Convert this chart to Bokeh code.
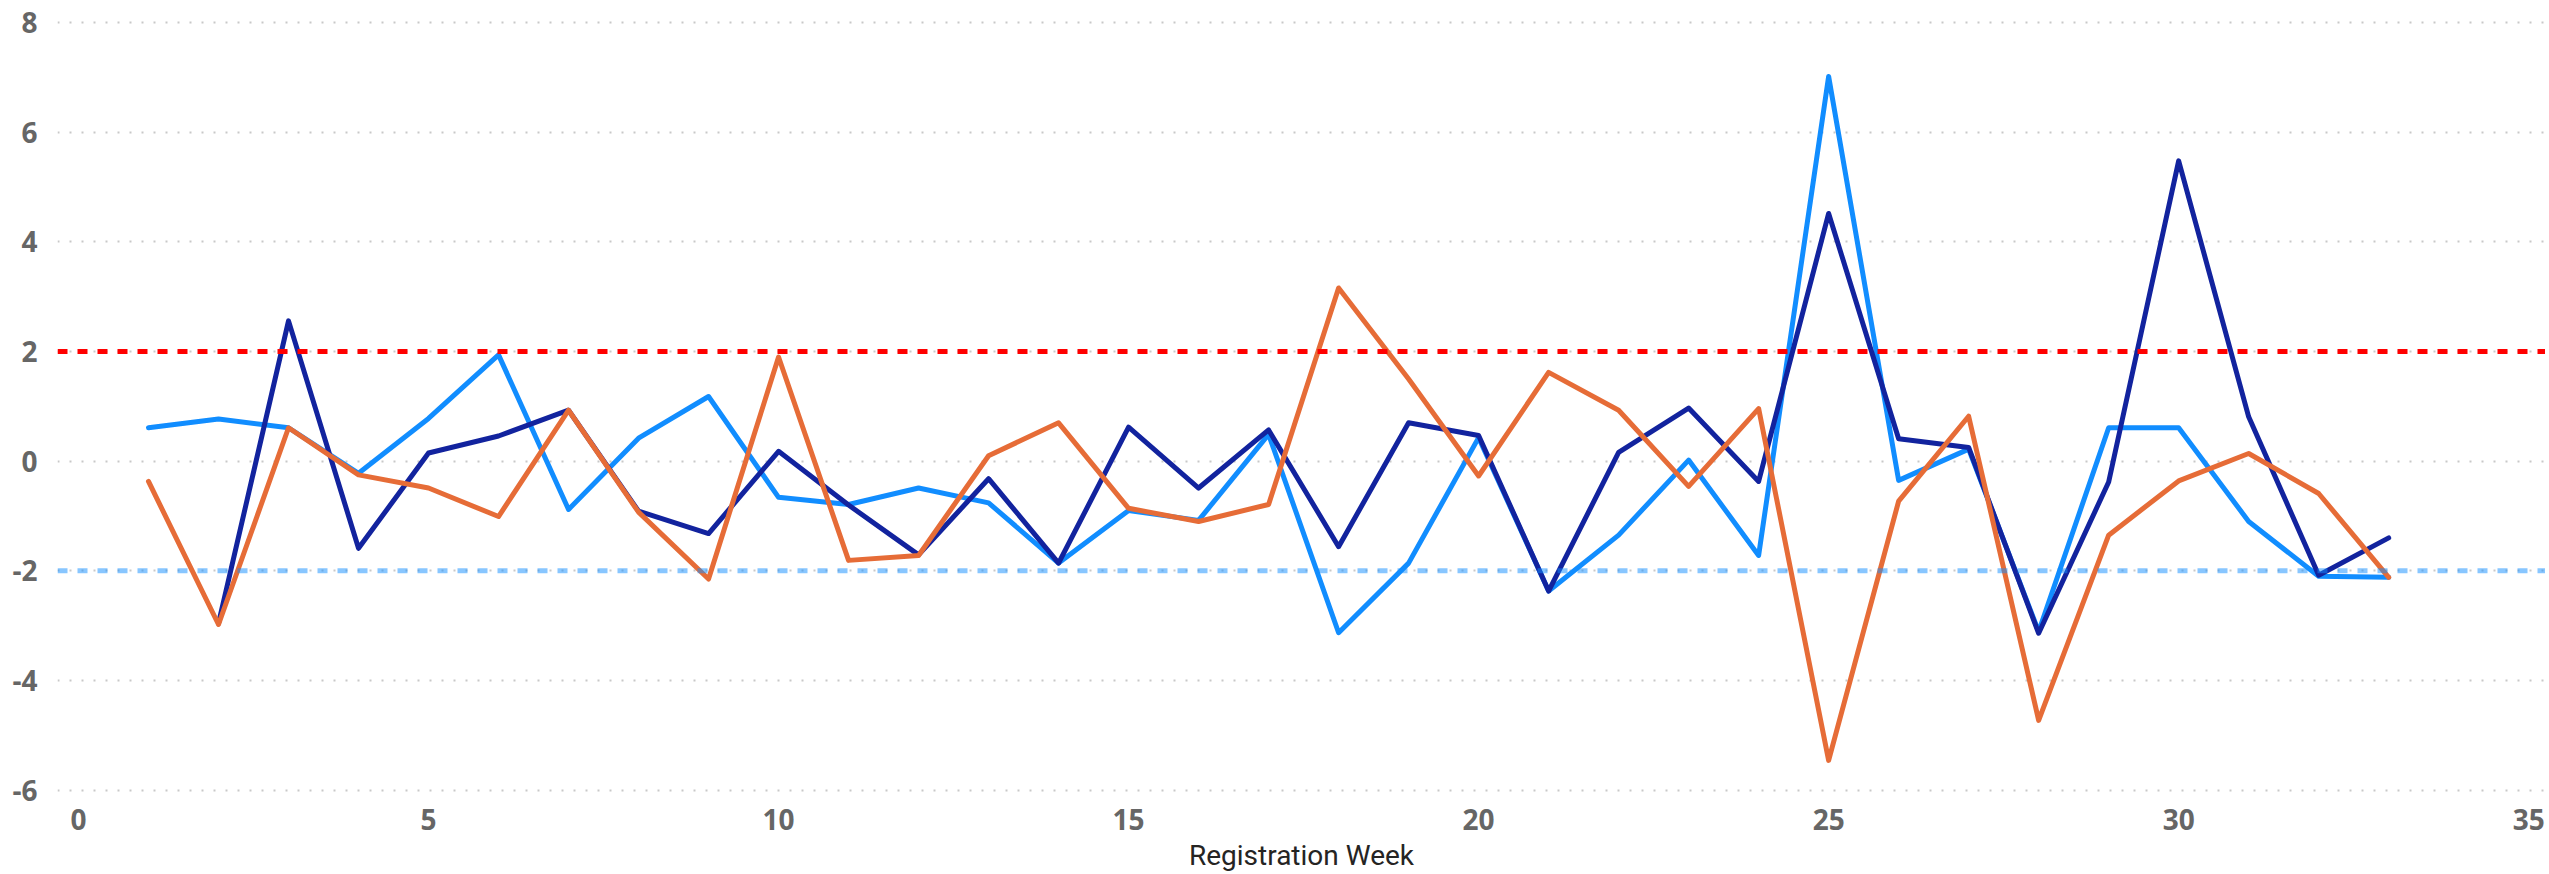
from bokeh.plotting import figure
from bokeh.models import Range1d, FixedTicker, Span, NumeralTickFormatter
from bokeh.embed import file_html
from bokeh.resources import INLINE

weeks = list(range(1, 34))
series_light = [0.61, 0.77, 0.61, -0.22, 0.78, 1.94, -0.88, 0.42, 1.18, -0.66,
                -0.79, -0.49, -0.76, -1.86, -0.90, -1.08, 0.49, -3.13, -1.86, 0.43,
                -2.37, -1.35, 0.02, -1.72, 7.02, -0.35, 0.22, -3.11, 0.61, 0.61,
                -1.10, -2.10, -2.12]
navy_weeks = list(range(2, 34))
series_navy = [-2.96, 2.56, -1.59, 0.15, 0.46, 0.93, -0.91, -1.32, 0.18,
               -0.80, -1.71, -0.32, -1.86, 0.62, -0.49, 0.57, -1.56, 0.70, 0.47,
               -2.37, 0.16, 0.97, -0.37, 4.52, 0.41, 0.25, -3.14, -0.38, 5.48,
               0.81, -2.08, -1.40]
series_orange = [-0.37, -2.98, 0.61, -0.25, -0.49, -1.01, 0.93, -0.93, -2.15, 1.90,
                 -1.81, -1.72, 0.10, 0.70, -0.86, -1.10, -0.79, 3.16, 1.50, -0.27,
                 1.62, 0.93, -0.46, 0.96, -5.46, -0.73, 0.82, -4.73, -1.35, -0.36,
                 0.14, -0.59, -2.12]
upper_limit = 2
lower_limit = -2
x_ticks = [0, 5, 10, 15, 20, 25, 30, 35]
y_ticks = [-6, -4, -2, 0, 2, 4, 6, 8]

p = figure(width=2545, height=874, output_backend="svg", toolbar_location=None,
           x_range=Range1d(-0.3, 35.24), y_range=Range1d(-6.082, 8.333),
           min_border_left=57, min_border_right=0, min_border_top=4, min_border_bottom=78)
p.outline_line_color = None
p.background_fill_color = "white"
p.border_fill_color = "white"

p.xgrid.visible = False
p.ygrid.grid_line_color = "#c8c8c8"
p.ygrid.grid_line_dash = "2 10"
p.ygrid.grid_line_width = 2
p.ygrid.ticker = FixedTicker(ticks=y_ticks)

for ax in (p.xaxis[0], p.yaxis[0]):
    ax.axis_line_color = None
    ax.major_tick_line_color = None
    ax.minor_tick_line_color = None
    ax.major_tick_out = 0
    ax.major_tick_in = 0
    ax.minor_tick_out = 0
    ax.major_label_text_font = "Open Sans"
    ax.major_label_text_font_style = "bold"
    ax.major_label_text_font_size = "28px"
    ax.major_label_text_color = "#666666"
    ax.formatter = NumeralTickFormatter(format="0")

p.xaxis.ticker = FixedTicker(ticks=x_ticks)
p.yaxis.ticker = FixedTicker(ticks=y_ticks)
p.yaxis.major_label_standoff = 20
p.xaxis.major_label_standoff = 14
p.xaxis.axis_label = "Registration Week"
p.xaxis.axis_label_text_font = "Roboto"
p.xaxis.axis_label_text_font_style = "normal"
p.xaxis.axis_label_text_font_size = "28px"
p.xaxis.axis_label_text_color = "#252423"
p.xaxis.axis_label_standoff = 6

lw = 5
p.line(weeks, series_light, line_color="#118DFF", line_width=lw,
       line_join="round", line_cap="round")
p.line(navy_weeks, series_navy, line_color="#12239E", line_width=lw,
       line_join="round", line_cap="round")
p.line(weeks, series_orange, line_color="#E66C37", line_width=lw,
       line_join="round", line_cap="round")

p.add_layout(Span(location=upper_limit, dimension="width", line_color="#FF0000",
                  line_width=5, line_dash="10 10"))
p.add_layout(Span(location=lower_limit, dimension="width", line_color="#118DFF",
                  line_alpha=0.5, line_width=5, line_dash="10 10"))

open("out.html", "w").write(file_html(p, INLINE))
